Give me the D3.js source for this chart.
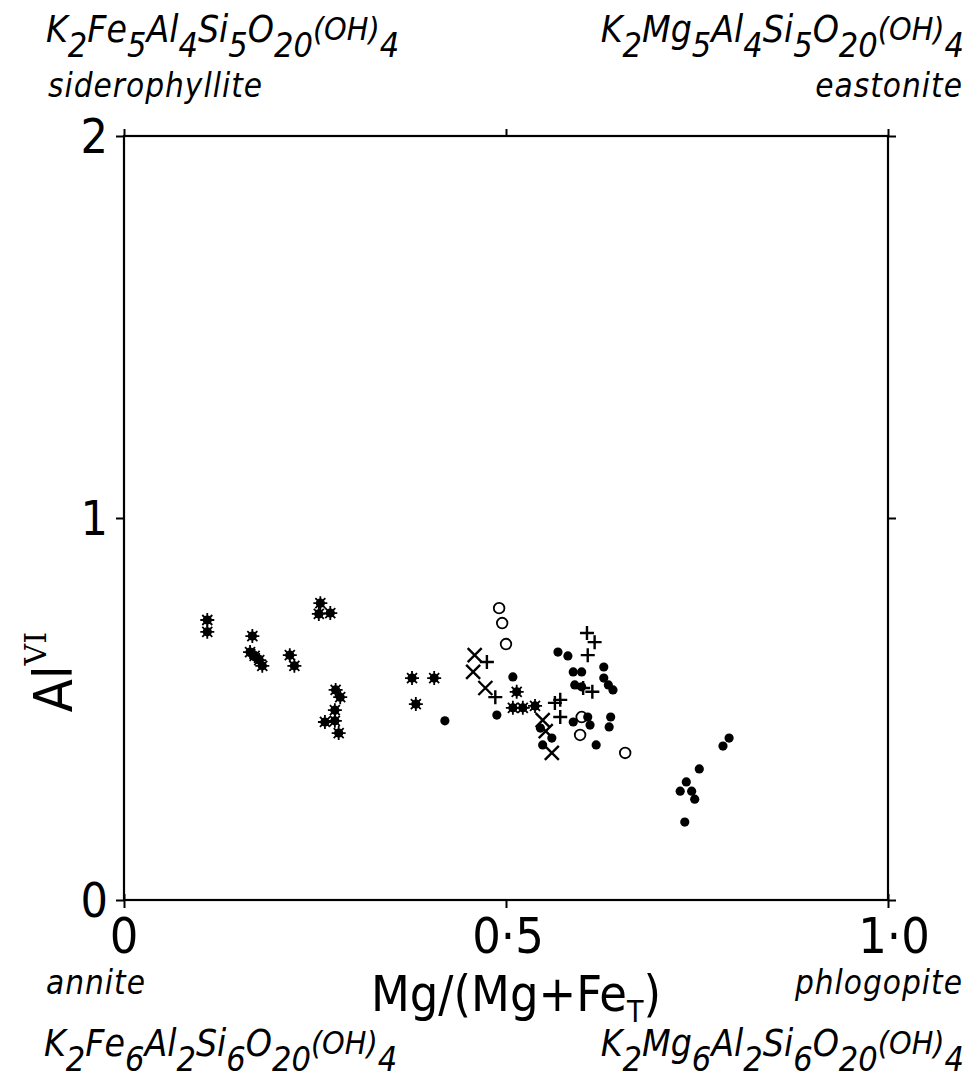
<!DOCTYPE html>
<html><head><meta charset="utf-8">
<script src="https://cdn.jsdelivr.net/npm/d3@7"></script>
<style>
body{margin:0;background:#fff;}
svg{display:block;}
text{fill:#000;}
</style></head>
<body>
<svg id="chart" width="967" height="1084"></svg>
<script>
// ---- data (Mg/(Mg+FeT), Al VI) ----
const xTicks = [0, 0.5, 1.0];
const xTickLabels = ["0", "0·5", "1·0"];
const yTicks = [0, 1, 2];
const yTickLabels = ["0", "1", "2"];

const asterisks = [
  [0.109,0.733],[0.109,0.702],[0.168,0.691],[0.165,0.649],[0.171,0.639],[0.177,0.628],[0.181,0.613],
  [0.217,0.641],[0.223,0.613],[0.257,0.777],[0.255,0.749],[0.270,0.751],
  [0.277,0.550],[0.283,0.531],[0.276,0.497],[0.263,0.466],[0.276,0.469],[0.281,0.437],
  [0.377,0.581],[0.406,0.581],[0.382,0.513],
  [0.514,0.545],[0.509,0.503],[0.522,0.503],[0.538,0.508]
];
const dots = [
  [0.420,0.469],[0.488,0.484],[0.509,0.584],[0.568,0.649],[0.581,0.639],[0.588,0.597],[0.599,0.597],
  [0.628,0.610],[0.628,0.581],[0.634,0.563],[0.640,0.550],[0.590,0.563],[0.599,0.558],
  [0.588,0.466],[0.607,0.479],[0.610,0.458],[0.637,0.479],[0.635,0.453],[0.618,0.406],
  [0.560,0.424],[0.545,0.450],[0.548,0.406],
  [0.792,0.424],[0.784,0.403],[0.753,0.343],[0.736,0.309],[0.728,0.285],[0.743,0.285],[0.747,0.264],[0.734,0.204]
];
const openCircles = [
  [0.491,0.764],[0.495,0.725],[0.500,0.670],[0.599,0.479],[0.597,0.432],[0.656,0.385]
];
const crosses = [
  [0.459,0.641],[0.457,0.597],[0.473,0.555],[0.548,0.471],[0.552,0.442],[0.560,0.385]
];
const pluses = [
  [0.475,0.623],[0.486,0.531],[0.606,0.699],[0.616,0.675],[0.607,0.641],[0.601,0.555],
  [0.613,0.545],[0.571,0.524],[0.564,0.516],[0.571,0.479]
];

// ---- layout ----
const svg = d3.select("#chart");
const mLeft = 124, mRight = 888, mTop = 136, mBottom = 900;
const x = d3.scaleLinear().domain([0,1]).range([mLeft,mRight]);
const y = d3.scaleLinear().domain([0,2]).range([mBottom,mTop]);
const FONT = "'DejaVu Sans Condensed','DejaVu Sans',sans-serif";
const black = "#000";

// frame
svg.append("rect").attr("x",mLeft).attr("y",mTop).attr("width",mRight-mLeft).attr("height",mBottom-mTop)
  .attr("fill","none").attr("stroke",black).attr("stroke-width",2.2);

// axes (ticks only; frame drawn above)
function styleAxis(g){ g.select(".domain").remove(); g.selectAll("line").attr("stroke",black).attr("stroke-width",2); g.selectAll("text").remove(); }
svg.append("g").attr("transform",`translate(0,${mBottom})`)
  .call(d3.axisBottom(x).tickValues(xTicks).tickSize(8)).call(styleAxis);
svg.append("g").attr("transform",`translate(0,${mBottom})`)
  .call(d3.axisTop(x).tickValues([0,1]).tickSize(6)).call(styleAxis);
svg.append("g").attr("transform",`translate(0,${mTop})`)
  .call(d3.axisTop(x).tickValues(xTicks).tickSize(7)).call(styleAxis);
svg.append("g").attr("transform",`translate(${mLeft},0)`)
  .call(d3.axisLeft(y).tickValues(yTicks).tickSize(8)).call(styleAxis);
svg.append("g").attr("transform",`translate(${mRight},0)`)
  .call(d3.axisRight(y).tickValues(yTicks).tickSize(8)).call(styleAxis);

// tick labels
svg.append("g").selectAll("text").data(xTicks).join("text")
  .attr("x",(d,i)=> x(d) + (i===2?6:(i===1?2:0)))
  .attr("y",953).attr("text-anchor","middle")
  .attr("font-family",FONT).attr("font-size",50)
  .text((d,i)=>xTickLabels[i]);
svg.append("g").selectAll("text").data(yTicks).join("text")
  .attr("x",108).attr("y",d=>y(d)+17).attr("text-anchor","end")
  .attr("font-family",FONT).attr("font-size",48)
  .text((d,i)=>yTickLabels[i]);

// axis titles
const xt = svg.append("text").attr("x",516).attr("y",1011).attr("text-anchor","middle")
  .attr("font-family",FONT).attr("font-size",50);
xt.append("tspan").text("Mg/(Mg+Fe");
xt.append("tspan").attr("font-size",30).attr("dy",11).text("T");
xt.append("tspan").attr("dy",-11).text(")");

const yt = svg.append("text").attr("transform","translate(72,672) rotate(-90)").attr("text-anchor","middle")
  .attr("font-family",FONT).attr("font-size",54);
yt.append("tspan").text("Al");
yt.append("tspan").attr("font-size",30).attr("dy",-26).attr("font-family","'DejaVu Serif',serif").text("VI");

// formula helper
function formula(xp, yp, parts, anchor){
  const t = svg.append("text").attr("x",xp).attr("y",yp).attr("text-anchor",anchor)
    .attr("font-family",FONT).attr("font-style","italic").attr("font-size",37);
  let cur = 0;
  parts.forEach(p=>{
    const target = p[1]==="sub"?15:(p[1]==="mid"?-2:0);
    const ts = t.append("tspan").attr("dy",target-cur).text(p[0]);
    if(p[1]==="sub") ts.attr("font-size",34);
    if(p[1]==="mid") ts.attr("font-size",32);
    cur = target;
  });
  return t;
}
const sid = [["K"],["2","sub"],["Fe"],["5","sub"],["Al"],["4","sub"],["Si"],["5","sub"],["O"],["20","sub"],["(OH)","mid"],["4","sub"]];
const eas = [["K"],["2","sub"],["Mg"],["5","sub"],["Al"],["4","sub"],["Si"],["5","sub"],["O"],["20","sub"],["(OH)","mid"],["4","sub"]];
const ann = [["K"],["2","sub"],["Fe"],["6","sub"],["Al"],["2","sub"],["Si"],["6","sub"],["O"],["20","sub"],["(OH)","mid"],["4","sub"]];
const phl = [["K"],["2","sub"],["Mg"],["6","sub"],["Al"],["2","sub"],["Si"],["6","sub"],["O"],["20","sub"],["(OH)","mid"],["4","sub"]];

formula(46,42,sid,"start");
formula(964,42,eas,"end");
formula(44,1056,ann,"start");
formula(964,1056,phl,"end");

function label(xp,yp,txt,anchor){
  svg.append("text").attr("x",xp).attr("y",yp).attr("text-anchor",anchor)
    .attr("font-family",FONT).attr("font-style","italic").attr("font-size",33)
    .attr("letter-spacing",1).text(txt);
}
label(48,97,"siderophyllite","start");
label(963,97,"eastonite","end");
label(46,994,"annite","start");
label(963,994,"phlogopite","end");

// ---- marks ----
const marks = svg.append("g");
// asterisks
const ast = marks.selectAll("g.ast").data(asterisks).join("g").attr("class","ast")
  .attr("transform",d=>`translate(${x(d[0])},${y(d[1])})`);
ast.append("circle").attr("r",4.6).attr("fill",black);
ast.append("path").attr("d","M-7,0L7,0M0,-7L0,7M-5,-5L5,5M-5,5L5,-5").attr("stroke",black).attr("stroke-width",1.8);
// dots
marks.selectAll("circle.dot").data(dots).join("circle").attr("class","dot")
  .attr("cx",d=>x(d[0])).attr("cy",d=>y(d[1])).attr("r",4.6).attr("fill",black);
// open circles
marks.selectAll("circle.open").data(openCircles).join("circle").attr("class","open")
  .attr("cx",d=>x(d[0])).attr("cy",d=>y(d[1])).attr("r",5.3).attr("fill","none").attr("stroke",black).attr("stroke-width",1.8);
// crosses
marks.selectAll("path.cross").data(crosses).join("path").attr("class","cross")
  .attr("transform",d=>`translate(${x(d[0])},${y(d[1])})`)
  .attr("d","M-7,-7L7,7M-7,7L7,-7").attr("stroke",black).attr("stroke-width",2.4);
// pluses
marks.selectAll("path.plus").data(pluses).join("path").attr("class","plus")
  .attr("transform",d=>`translate(${x(d[0])},${y(d[1])})`)
  .attr("d","M-7,0L7,0M0,-7L0,7").attr("stroke",black).attr("stroke-width",2.4);
</script>
</body></html>
